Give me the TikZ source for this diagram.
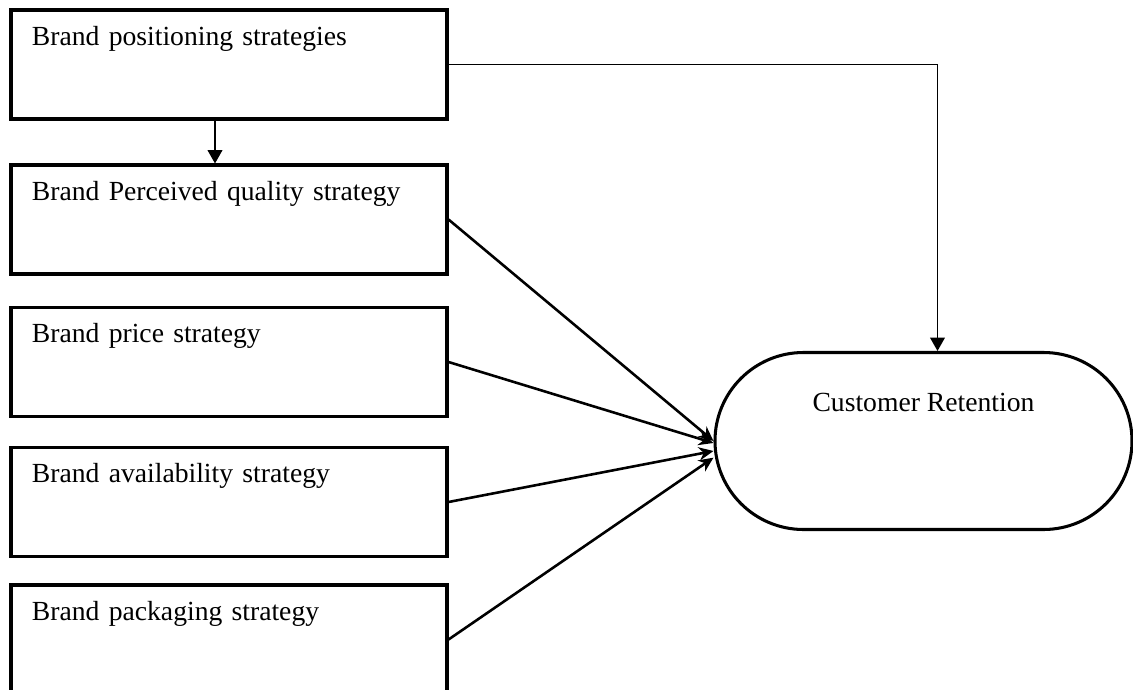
\documentclass[tikz,border=0pt]{standalone}
\usepackage{fontspec}
\setmainfont{Liberation Serif}
\usepackage{tikz}
\usetikzlibrary{arrows.meta}

\begin{document}
\begin{tikzpicture}[>=Stealth, x=0.015cm, y=-0.015cm,
    every node/.style={font=\fontsize{11.8pt}{14pt}\selectfont},
    stratbox/.style={draw, line width=1.3pt, rectangle, minimum width=6.54cm,
        text width=5.91cm, align=left, inner xsep=0.315cm, inner ysep=0pt,
        text height=0.525cm, text depth=1.11cm},
    outcome/.style={draw, line width=1.3pt, rectangle, rounded corners=1.3275cm,
        minimum width=6.255cm, inner ysep=0pt, text height=0.885cm, text depth=1.77cm},
    thin/.style={->, line width=0.65pt, >={Triangle[length=0.2cm,width=0.22cm]}},
    thick/.style={->, line width=1.1pt, >={Stealth[length=0.22cm,width=0.2cm]}}]
            \useasboundingbox (0,0) rectangle (1133,689);
            % strategy boxes down the left side
            \node[stratbox] (pos) at (229,64.5) {Brand positioning strategies};
            \node[stratbox] (qual) at (229,219.5) {Brand Perceived quality strategy};
            \node[stratbox] (price) at (229,362) {Brand price strategy};
            \node[stratbox] (avail) at (229,502) {Brand availability strategy};
            \node[stratbox] (pack) at (229,639.5) {Brand packaging strategy};
            % outcome
            \node[outcome] (ret) at (923.5,441) {Customer Retention};
            % links
            \draw[thin] ([xshift=-0.21cm]pos.south) -- ([xshift=-0.21cm]qual.north);
            \draw[thin] (pos.east) -| ([xshift=0.21cm]ret.north);
            \draw[thick] (qual.east) -- (ret.west);
            \draw[thick] (price.east) -- ([yshift=-0.03cm]ret.west);
            \draw[thick] (avail.east) -- ([yshift=-0.15cm]ret.west);
            \draw[thick] (pack.east) -- ([yshift=-0.25cm]ret.west);
        \end{tikzpicture}
\end{document}
